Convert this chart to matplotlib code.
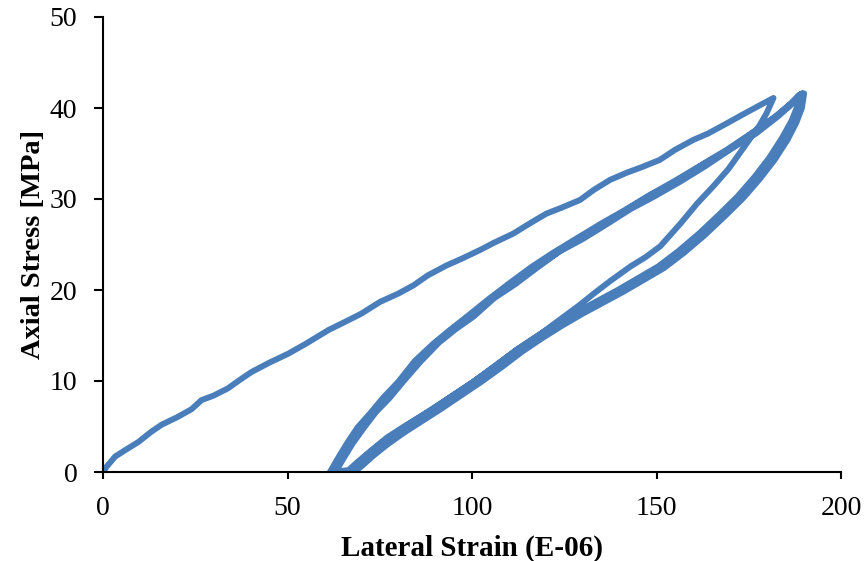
import numpy as np
import matplotlib.pyplot as plt

plt.rcParams['font.family'] = ['Liberation Serif', 'DejaVu Serif']

# Carga inicial
x_load0 = [0, 1.0, 3.3, 6.0, 9.6, 13.0, 15.9, 20.0, 24.0, 26.7, 30.0, 33.9, 37.0, 40.3, 45.0,
           50.2, 55.0, 61.1, 65.6, 70.0, 75.1, 80.0, 84.1, 88.0, 93.1, 97.0, 102.2, 106.0,
           111.2, 116.0, 120.2, 124.0, 129.3, 133.0, 137.4, 142.0, 146.0, 150.9, 155.0,
           160.0, 164.0, 169.0, 173.0, 178.0, 181.7]
y_load0 = [0, 0.6, 1.7, 2.4, 3.3, 4.4, 5.2, 6.0, 6.9, 7.9, 8.4, 9.2, 10.1, 11.0, 12.0,
           13.0, 14.1, 15.6, 16.5, 17.4, 18.7, 19.6, 20.5, 21.6, 22.7, 23.4, 24.4, 25.2,
           26.2, 27.4, 28.4, 29.0, 29.9, 31.0, 32.1, 32.9, 33.5, 34.3, 35.4,
           36.5, 37.2, 38.3, 39.2, 40.3, 41.1]

# Primera descarga
x_unload1 = [181.7, 179.8, 177.8, 175.3, 172.5, 169.5, 165.4, 161.0, 156.5, 151.0, 147.0,
             143.0, 137.5, 133.0, 129.0, 124.0, 118.0, 112.0, 106.0, 100.0, 94.0, 88.0,
             82.0, 77.0, 72.5, 69.0, 66.5]
y_unload1 = [41.1, 39.4, 38.0, 36.6, 35.0, 33.3, 31.4, 29.5, 27.3, 24.8, 23.6,
             22.6, 21.0, 19.6, 18.3, 16.8, 15.0, 13.4, 11.6, 9.8, 8.2, 6.6,
             5.1, 3.8, 2.3, 1.1, 0.2]

# Recargas (ciclos 2, 3, 4)
x_reload_a = [61.5, 63.8, 66.2, 69.0, 72.5, 76.0, 80.0, 84.5, 89.5, 94.0, 99.0, 104.5, 110.0,
              116.0, 122.0, 128.5, 135.0, 141.5, 148.0, 155.0, 162.0, 169.0, 176.0, 182.0,
              186.5, 188.5]
y_reload_a = [0.0, 1.6, 3.2, 4.9, 6.5, 8.2, 9.9, 12.2, 14.1, 15.6, 17.2, 19.0, 20.7,
              22.5, 24.1, 25.7, 27.3, 28.8, 30.4, 32.0, 33.7, 35.4, 37.3, 39.0,
              40.5, 41.4]
x_reload_b = [63.0, 65.2, 67.6, 70.6, 74.0, 77.6, 81.5, 86.0, 91.0, 95.6, 100.5, 106.0, 111.6,
              117.5, 123.6, 130.0, 136.4, 143.0, 149.5, 156.4, 163.2, 170.2, 177.0, 183.0,
              187.2, 189.0]
y_reload_b = [0.0, 1.5, 3.1, 4.8, 6.6, 8.1, 10.0, 12.1, 14.2, 15.7, 17.1, 19.1, 20.6,
              22.4, 24.2, 25.6, 27.2, 28.9, 30.3, 31.9, 33.6, 35.5, 37.2, 39.1,
              40.6, 41.5]
x_reload_c = [62.2, 64.5, 66.8, 69.8, 73.1, 76.7, 80.8, 85.2, 90.2, 94.8, 99.8, 105.2, 110.8,
              116.8, 122.8, 129.2, 135.7, 142.2, 148.7, 155.6, 162.6, 169.6, 176.5, 182.5,
              187.0, 189.5]
y_reload_c = [0.0, 1.4, 3.3, 4.8, 6.4, 8.3, 9.8, 12.3, 14.0, 15.8, 17.1, 19.0, 20.8,
              22.4, 24.0, 25.8, 27.2, 28.9, 30.5, 31.9, 33.8, 35.4, 37.4, 39.1,
              40.7, 41.6]

# Descargas (ciclos 2, 3, 4)
x_unload_a = [189.0, 188.2, 186.6, 184.0, 180.5, 176.5, 172.0, 167.0, 161.5, 156.0, 150.5,
              145.0, 139.5, 134.0, 128.5, 123.0, 117.5, 112.0, 106.5, 101.0, 95.5, 90.0,
              85.0, 80.0, 75.5, 71.5, 68.5, 66.5]
y_unload_a = [41.5, 40.2, 38.6, 36.7, 34.5, 32.4, 30.3, 28.3, 26.2, 24.3, 22.6,
              21.3, 20.0, 18.8, 17.6, 16.3, 14.9, 13.4, 11.7, 10.1, 8.6, 7.1,
              5.8, 4.5, 3.2, 1.9, 0.8, 0.0]
x_unload_b = [189.5, 188.8, 187.3, 184.8, 181.3, 177.3, 172.8, 167.8, 162.3, 156.8, 151.3,
              145.8, 140.3, 134.8, 129.3, 123.8, 118.3, 112.8, 107.3, 101.8, 96.3, 90.8,
              85.8, 80.8, 76.3, 72.3, 69.3, 67.3]
y_unload_b = [41.6, 40.1, 38.5, 36.6, 34.4, 32.3, 30.2, 28.2, 26.1, 24.2, 22.5,
              21.2, 19.9, 18.7, 17.5, 16.2, 14.8, 13.3, 11.6, 10.0, 8.5, 7.0,
              5.7, 4.4, 3.1, 1.8, 0.7, 0.0]
x_unload_c = [190.0, 189.4, 187.9, 185.5, 182.0, 178.0, 173.5, 168.5, 163.0, 157.5, 152.0,
              146.5, 141.0, 135.5, 130.0, 124.5, 119.0, 113.5, 108.0, 102.5, 97.0, 91.5,
              86.5, 81.5, 77.0, 73.0, 70.0, 68.0]
y_unload_c = [41.6, 40.0, 38.4, 36.5, 34.3, 32.2, 30.1, 28.1, 26.0, 24.1, 22.4,
              21.1, 19.8, 18.6, 17.4, 16.1, 14.7, 13.2, 11.5, 9.9, 8.4, 6.9,
              5.6, 4.3, 3.0, 1.7, 0.6, 0.0]

# Trayectoria completa en orden
x_all = (x_load0 + x_unload1 + x_reload_a + x_unload_a + x_reload_b + x_unload_b
         + x_reload_c + x_unload_c)
y_all = (y_load0 + y_unload1 + y_reload_a + y_unload_a + y_reload_b + y_unload_b
         + y_reload_c + y_unload_c)

fig = plt.figure(figsize=(8.65, 5.61), dpi=100)
ax = fig.add_axes([103 / 865, 1 - 472 / 561, 738 / 865, 455 / 561])

ax.plot(x_all, y_all, color='#4A7EBB', linewidth=4.3,
        solid_capstyle='round', solid_joinstyle='round')

ax.set_xlim(0, 200)
ax.set_ylim(0, 50)
ax.set_xticks(np.arange(0, 201, 50))
ax.set_yticks(np.arange(0, 51, 10))

ax.spines['top'].set_visible(False)
ax.spines['right'].set_visible(False)
ax.spines['left'].set_linewidth(1.5)
ax.spines['bottom'].set_linewidth(1.5)
ax.tick_params(axis='y', direction='out', length=6.5, width=1.5, pad=12, labelsize=20)
ax.tick_params(axis='x', direction='out', length=5, width=1.5, pad=12, labelsize=20)

ax.set_xlabel('Lateral Strain (E-06)', fontsize=21, fontweight='bold')
ax.set_ylabel('Axial Stress [MPa]', fontsize=20.5, fontweight='bold')
ax.xaxis.set_label_coords(0.5, -0.137)
ax.yaxis.set_label_coords(-0.077, 0.5)

fig.savefig('out.png', dpi=100)
